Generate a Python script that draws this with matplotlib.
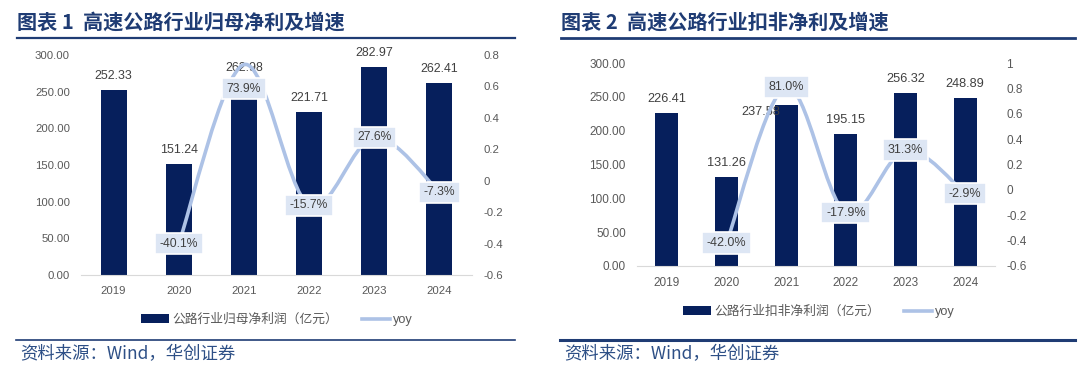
import matplotlib
matplotlib.use("Agg")
import matplotlib.pyplot as plt
from matplotlib.path import Path
from matplotlib.patches import PathPatch
from matplotlib.lines import Line2D
from matplotlib.ticker import FuncFormatter

plt.rcParams["font.family"] = ["Liberation Sans", "Noto Sans CJK SC", "DejaVu Sans"]

# Data
years = ["2019", "2020", "2021", "2022", "2023", "2024"]
parent_profit = [252.33, 151.24, 262.98, 221.71, 282.97, 262.41]
parent_yoy = [-0.401, 0.739, -0.157, 0.276, -0.073]  # 2020-2024
core_profit = [226.41, 131.26, 237.58, 195.15, 256.32, 248.89]
core_yoy = [-0.420, 0.810, -0.179, 0.313, -0.029]  # 2020-2024

title1 = "图表 1  高速公路行业归母净利及增速"
title2 = "图表 2  高速公路行业扣非净利及增速"
legend1 = "公路行业归母净利润（亿元）"
legend2 = "公路行业扣非净利润（亿元）"
source = "资料来源：Wind，华创证券"

BAR = "#061f5c"
LINE = "#adc2e6"
BOX = "#dde6f4"
TICK = "#595959"
LABEL = "#404040"
NAVY = "#1f3c74"

W, H = 1080, 372
fig = plt.figure(figsize=(W / 100, H / 100), dpi=100)


def px_axes(x0, x1, ytop, ybot):
    return fig.add_axes([x0 / W, 1 - ybot / H, (x1 - x0) / W, (ybot - ytop) / H])


def smooth_path(xs, ys):
    pts = list(zip(xs, ys))
    n = len(pts)
    verts = [pts[0]]
    codes = [Path.MOVETO]
    for i in range(n - 1):
        p0 = pts[i - 1] if i > 0 else pts[i]
        p1, p2 = pts[i], pts[i + 1]
        p3 = pts[i + 2] if i + 2 < n else pts[i + 1]
        c1 = (p1[0] + (p2[0] - p0[0]) / 6, p1[1] + (p2[1] - p0[1]) / 6)
        c2 = (p2[0] - (p3[0] - p1[0]) / 6, p2[1] - (p3[1] - p1[1]) / 6)
        verts += [c1, c2, p2]
        codes += [Path.CURVE4] * 3
    return Path(verts, codes)


def panel(box, bars, yoy, rlim, width, bar_off, yoy_off, leg_label, leg_xy, fs):
    ax = px_axes(*box)
    x = list(range(len(years)))
    b = ax.bar(x, bars, width=width, color=BAR, label=leg_label, zorder=2)
    ax.set_xlim(-0.5, len(years) - 0.5)
    ax.set_ylim(0, 300)
    ax.set_yticks(range(0, 301, 50))
    ax.yaxis.set_major_formatter(FuncFormatter(lambda v, p: f"{v:.2f}"))
    ax.set_xticks(x)
    ax.set_xticklabels(years)
    for s in ["top", "left", "right"]:
        ax.spines[s].set_visible(False)
    ax.spines["bottom"].set_color("#d9d9d9")
    ax.tick_params(axis="both", length=0, colors=TICK, labelsize=fs)
    ax.tick_params(axis="y", pad=8)
    ax.tick_params(axis="x", pad=8)
    for i, v in enumerate(bars):
        dx, dy = bar_off.get(i, (0, 14))
        ax.annotate(f"{v:.2f}", (i, v), xytext=(dx, dy), textcoords="offset pixels",
                    ha="center", va="center", fontsize=fs + 0.7, color=LABEL, zorder=3)

    ax2 = ax.twinx()
    ax2.set_ylim(*rlim)
    ticks = [round(rlim[0] + 0.2 * k, 1) for k in range(int(round((rlim[1] - rlim[0]) / 0.2)) + 1)]
    ax2.set_yticks(ticks)
    ax2.yaxis.set_major_formatter(FuncFormatter(lambda v, p: f"{round(v, 1):g}"))
    for s in ax2.spines.values():
        s.set_visible(False)
    ax2.tick_params(axis="y", length=0, colors=TICK, labelsize=fs, pad=8)
    xs = x[1:]
    ax2.add_patch(PathPatch(smooth_path(xs, yoy), fill=False, edgecolor=LINE, lw=2.6,
                            capstyle="round", joinstyle="round", zorder=2))
    for j, v in enumerate(yoy):
        dx, dy = yoy_off.get(j, (0, 0))
        ax2.annotate(f"{v * 100:.1f}%", (xs[j], v), xytext=(dx, dy), textcoords="offset pixels",
                     ha="center", va="center", fontsize=fs + 0.5, color=LABEL, zorder=4,
                     bbox=dict(boxstyle="square,pad=0.38", fc=BOX, ec="white", lw=1.2))
    handle_line = Line2D([], [], color=LINE, lw=2.6)
    fig.legend([b, handle_line], [leg_label, "yoy"], loc="center",
               bbox_to_anchor=(leg_xy[0] / W, 1 - leg_xy[1] / H), ncol=2, frameon=False,
               fontsize=9.2, handlelength=2.2, handletextpad=0.25, columnspacing=1.9,
               labelcolor=TICK)
    return ax, ax2


panel((81, 472, 55, 275), parent_profit, parent_yoy, (-0.6, 0.8), 0.4,
      {}, {1: (0, -24)}, legend1, (277, 320), 8.2)
panel((637, 995, 63, 266), core_profit, core_yoy, (-0.6, 1.0), 0.38,
      {2: (-25, -7)}, {}, legend2, (819, 312), 8.5)

# titles, rules and source lines
for tx, x0, x1, lw_top, lw_bot in [(title1, 17, 515, 1.6, 1.2), (title2, 561, 1075, 2.0, 2.2)]:
    fig.text(x0 / W, 1 - 22 / H, tx, fontsize=14.5, fontweight="bold", color=NAVY,
             ha="left", va="center", family=["Noto Sans CJK SC", "DejaVu Sans"])
    fig.add_artist(Line2D([x0 / W, x1 / W], [1 - 38 / H, 1 - 38 / H], color=NAVY, lw=lw_top))
    fig.add_artist(Line2D([(x0 - 1) / W, x1 / W], [1 - 340 / H, 1 - 340 / H], color=NAVY, lw=lw_bot))
    fig.text((x0 + 3) / W, 1 - 354 / H, source, fontsize=12.5, style="italic", color="#2d4f86",
             ha="left", va="center", family=["Noto Sans CJK SC", "DejaVu Sans"])

fig.savefig("out.png", dpi=100)
